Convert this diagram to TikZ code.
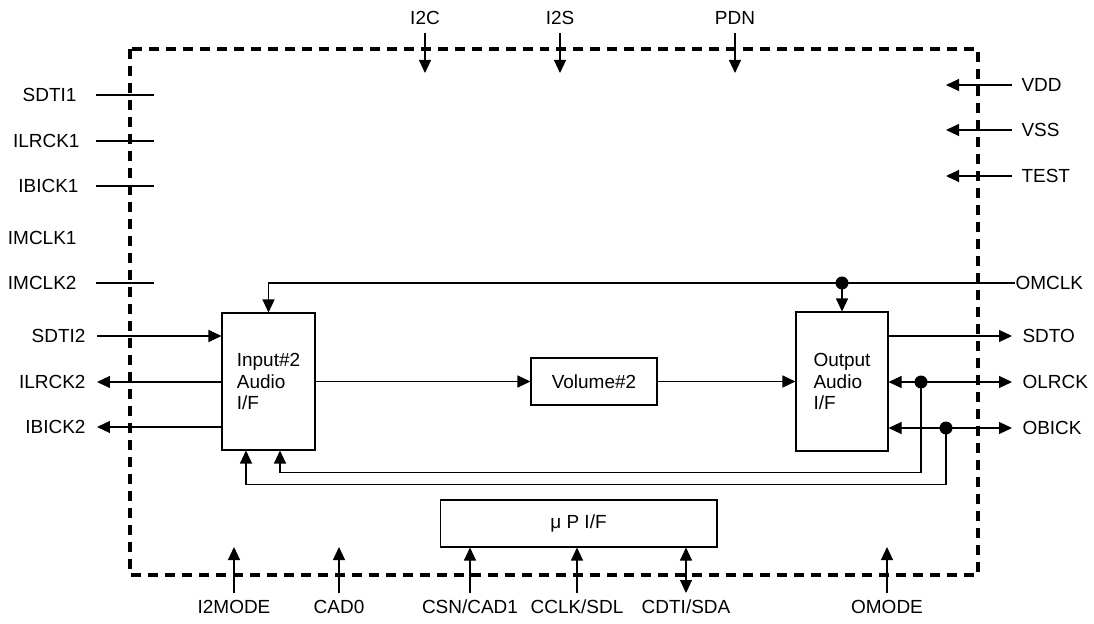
\documentclass[tikz,border=0pt]{standalone}
\usepackage{fontspec}
\setmainfont{Liberation Sans}
\usetikzlibrary{arrows.meta}

\begin{document}
\begin{tikzpicture}[x=0.02cm,y=-0.02cm,
  font=\fontsize{10.8}{12.3}\selectfont,
  line width=0.6pt,
  >={Triangle[length=0.26cm,width=0.24cm]},
  blk/.style={draw,align=left,inner sep=0pt},
  pin/.style={inner sep=0pt},
  dot/.style={circle,fill,inner sep=0pt,minimum size=0.26cm}]

  \useasboundingbox (0,0) rectangle (1094,624);

  % Chip outline
  \draw[line width=1.8pt,dash pattern=on 0.2cm off 0.14cm] (130,49) rectangle (978,575);

  % Blocks
  \node[blk,minimum width=1.86cm,minimum height=2.74cm] (inif) at (268.5,381.5) {Input\#2\\Audio\\I/F};
  \node[blk,minimum width=2.52cm,minimum height=0.94cm] (vol) at (594,381.5) {Volume\#2};
  \node[blk,minimum width=1.84cm,minimum height=2.78cm] (outif) at (842,381.5) {Output\\Audio\\I/F};
  \node[blk,minimum width=5.54cm,minimum height=0.94cm] (mpu) at (578.5,523.5) {μ P I/F};

  % Left pins, port 1 (not connected)
  \foreach \x/\y/\nm/\txt in {77/95/sdtia/SDTI1,80/141/ilrcka/ILRCK1,79/186/ibicka/IBICK1,77/238/imclka/IMCLK1,77/283/imclkb/IMCLK2}
    \node[pin,anchor=east] (\nm) at (\x,\y) {\txt};
  \foreach \nm in {sdtia,ilrcka,ibicka,imclkb} {
    \coordinate (\nm-a) at (96,0 |- \nm.east);
    \coordinate (\nm-b) at (154,0 |- \nm.east);
    \draw (\nm-a) -- (\nm-b);
  }

  % Left pins, port 2
  \foreach \y/\nm/\txt in {336/sdtib/SDTI2,382/ilrckb/ILRCK2,427/ibickb/IBICK2} {
    \node[pin,anchor=east] (\nm) at (86,\y) {\txt};
    \coordinate (\nm-t) at (97,\y);
  }
  \draw[->] (sdtib-t) -- (inif.west |- sdtib-t);
  \draw[->] (inif.west |- ilrckb-t) -- (ilrckb-t);
  \draw[->] (inif.west |- ibickb-t) -- (ibickb-t);

  % Top control pins
  \foreach \x/\nm/\txt in {425/itc/I2C,560/its/I2S,735/pdn/PDN} {
    \node[pin] (\nm) at (\x,18) {\txt};
    \coordinate (\nm-a) at (\x,33);
    \coordinate (\nm-b) at (\x,73);
    \draw[->] (\nm-a) -- (\nm-b);
  }

  % Power pins
  \foreach \y/\nm/\txt in {85/vdd/VDD,130/vss/VSS,176/test/TEST} {
    \node[pin,anchor=west] (\nm) at (1021,\y) {\txt};
    \coordinate (\nm-a) at (1012,\y);
    \coordinate (\nm-b) at (946,\y);
    \draw[->] (\nm-a) -- (\nm-b);
  }

  % Bottom mode pins
  \foreach \x/\nm/\txt in {234/itmode/I2MODE,339/cadz/CAD0,887/omode/OMODE} {
    \node[pin] (\nm) at (\x,607) {\txt};
    \coordinate (\nm-a) at (\x,593);
    \coordinate (\nm-b) at (\x,547);
    \draw[->] (\nm-a) -- (\nm-b);
  }

  % Bottom uP pins
  \foreach \x/\nm/\txt in {470/csn/{CSN/CAD1},577/cclk/{CCLK/SDL},686/cdti/{CDTI/SDA}} {
    \node[pin] (\nm) at (\x,607) {\txt};
    \coordinate (\nm-a) at (\x,593);
  }
  \draw[->] (csn-a) -- (csn-a |- mpu.south);
  \draw[->] (cclk-a) -- (cclk-a |- mpu.south);
  \draw[<->] (cdti-a) -- (cdti-a |- mpu.south);

  % Main data path
  \draw[->] (inif) -- (vol);
  \draw[->] (vol) -- (outif);

  % Output pins
  \node[pin,anchor=west] (omclk) at (1015,283) {OMCLK};
  \foreach \y/\nm/\txt in {336/sdto/SDTO,382/olrck/OLRCK,428/obick/OBICK} {
    \node[pin,anchor=west] (\nm) at (1022,\y) {\txt};
    \coordinate (\nm-t) at (1012,\y);
  }
  \coordinate (omj) at (842,283);
  \coordinate (olj) at (921,382);
  \coordinate (obj) at (946,428);

  % Master clock
  \draw[->] (omclk.west) -- (omj) -- (omj -| inif.north) -- (inif.north);
  \draw[->] (omj) -- (outif.north);

  % Serial data out and clocks
  \draw[->] (outif.east |- sdto-t) -- (sdto-t);
  \draw[<->] (outif.east |- olrck-t) -- (olrck-t);
  \draw[<->] (outif.east |- obick-t) -- (obick-t);

  % Clock loop back to input
  \draw[->] (olj) |- ([xshift=0.23cm,yshift=-0.44cm]inif.south) -- ([xshift=0.23cm]inif.south);
  \draw[->] (obj) |- ([xshift=-0.45cm,yshift=-0.68cm]inif.south) -- ([xshift=-0.45cm]inif.south);

  \node[dot] at (omj) {};
  \node[dot] at (olj) {};
  \node[dot] at (obj) {};

\end{tikzpicture}
\end{document}
